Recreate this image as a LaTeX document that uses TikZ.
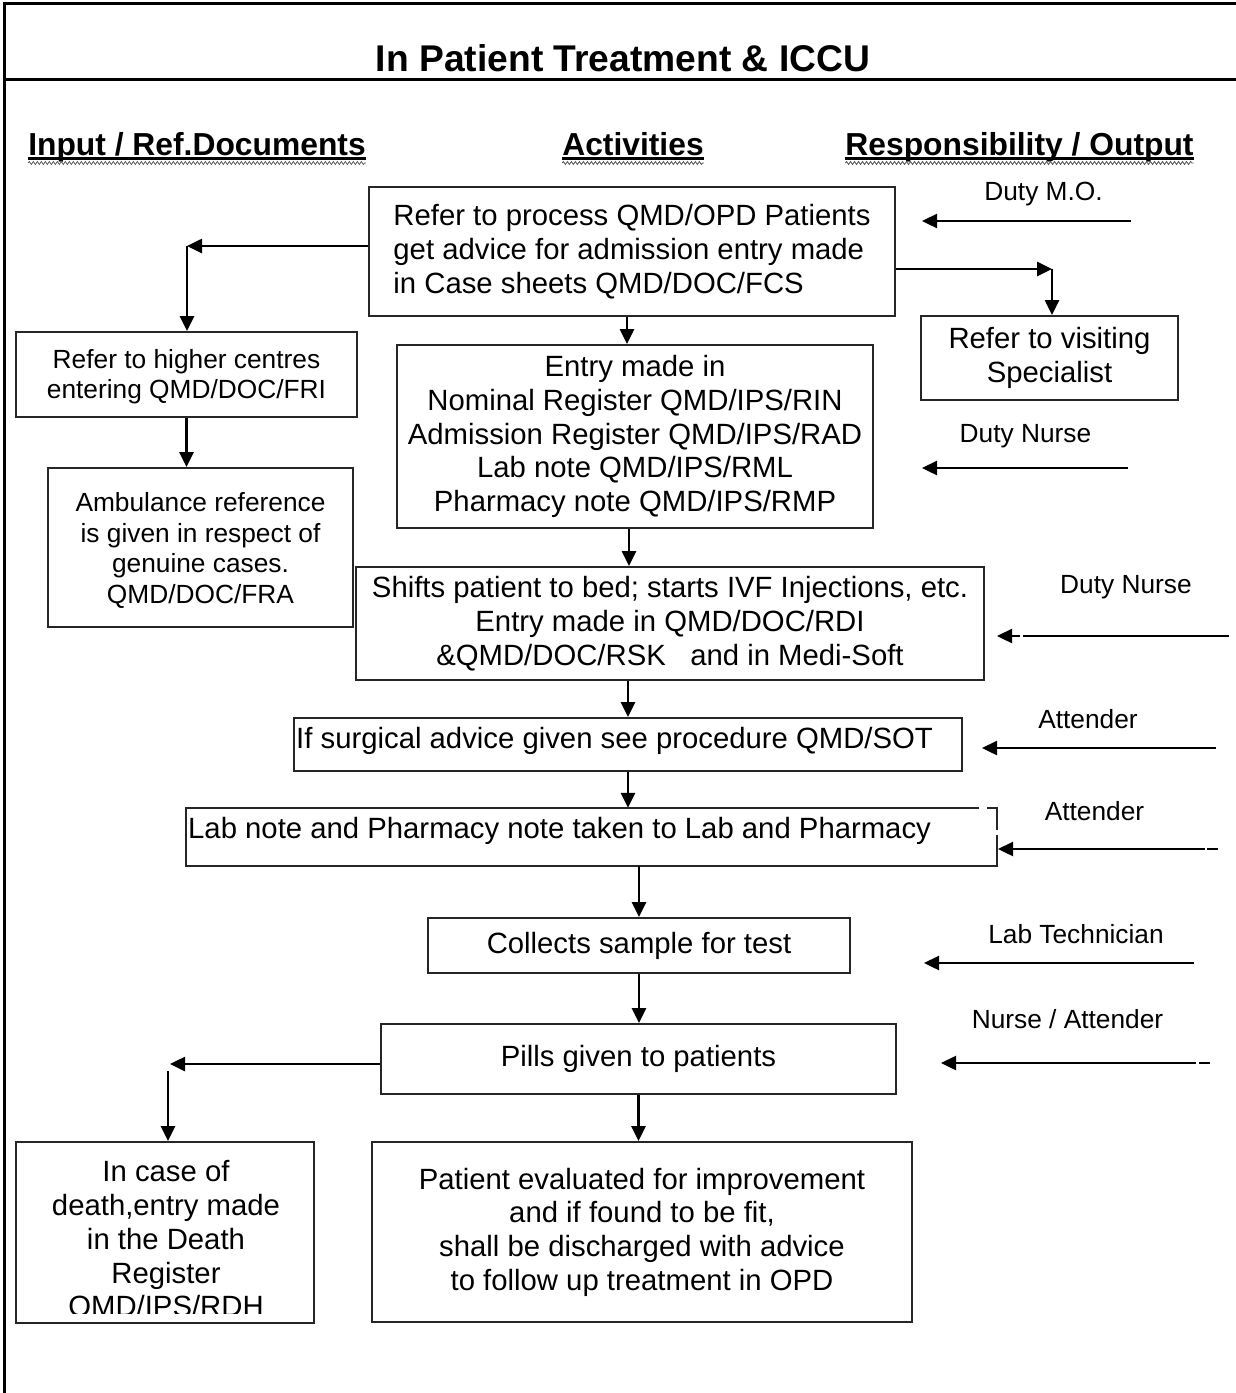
\documentclass[tikz,border=0pt]{standalone}
\usepackage{fontspec}
\setmainfont{Liberation Sans}
\usetikzlibrary{arrows.meta,decorations.pathmorphing}

% type sizes (1pt = 1 unit of the drawing grid)
\newcommand\bodyfnt{\fontsize{29.3}{33.7}\selectfont}
\newcommand\smallfnt{\fontsize{26.3}{30.5}\selectfont}
\newcommand\headfnt{\fontsize{31.8}{36}\selectfont\bfseries}
\newcommand\titlefnt{\fontsize{37.2}{42}\selectfont\bfseries}

\begin{document}
\begin{tikzpicture}[x=1pt, y=-1pt,
  frame/.style={line width=3pt, draw=black},
  boxline/.style={line width=2pt, draw=black!85},
  box/.style={boxline, draw=black!85, text=black, inner sep=0pt, align=center, font=\bodyfnt},
  sbox/.style={box, font=\smallfnt},
  txt/.style={inner sep=0pt, text=black, align=center, font=\bodyfnt},
  role/.style={inner sep=0pt, anchor=base, font=\smallfnt},
  head/.style={inner sep=0pt, anchor=base, font=\headfnt},
  uline/.style={line width=2.3pt, draw=black},
  wave/.style={line width=0.8pt, draw=black!65, decorate,
    decoration={snake, amplitude=1.5pt, segment length=4pt}},
  arr/.style={line width=2.6pt, -{Triangle[length=15pt,width=14pt]}},
  rarr/.style={line width=2.4pt, -{Triangle[length=15pt,width=14pt]}}
]
\useasboundingbox (0,0) rectangle (1236,1393);

% page frame
\draw[frame] (4.5,3) -- (1236,3);
\draw[frame] (4.5,79) -- (1236,79);
\draw[frame] (4.5,1.5) -- (4.5,1393);

% title and column headings
\node[inner sep=0pt, anchor=base, font=\titlefnt] (title) at (623,71.5) {In Patient Treatment \& ICCU};

\node[head] (h1) at (197,155.5) {Input / Ref.Documents};
\node[head] (h2) at (633,155.5) {Activities};
\node[head] (h3) at (1019.5,155.5) {Responsibility / Output};
\foreach \h in {h1,h2,h3}{
  \draw[uline] ([yshift=-3pt]\h.base west) -- ([yshift=-3pt]\h.base east);
  \draw[wave] ([yshift=-7.5pt]\h.base west) -- ([yshift=-7.5pt]\h.base east);
}

% activity boxes
\node[box, align=left, minimum width=526, minimum height=129] (A) at (632,251.5)
  {Refer to process QMD/OPD Patients\\get advice for admission entry made\\in Case sheets QMD/DOC/FCS};
\node[box, minimum width=476, minimum height=183] (B) at (635,436.5)
  {Entry made in\\Nominal Register QMD/IPS/RIN\\Admission Register QMD/IPS/RAD\\Lab note QMD/IPS/RML\\Pharmacy note QMD/IPS/RMP};
\node[sbox, minimum width=341, minimum height=85] (C) at (186.5,374.5) {};
\node[inner sep=0pt, align=center, font=\smallfnt] (Ct) at (186.5,376.5)
  {Refer to higher centres\\entering QMD/DOC/FRI};
\node[sbox, minimum width=305, minimum height=159] (D) at (200.5,547.5) {};
\node[inner sep=0pt, align=center, font=\smallfnt] (Dt) at (200.5,550.5)
  {Ambulance reference\\is given in respect of\\genuine cases.\\QMD/DOC/FRA};
\node[box, minimum width=257, minimum height=84] (E) at (1049.5,358)
  {Refer to visiting\\Specialist};
\node[box, minimum width=628, minimum height=113] (F) at (670,623.5)
  {Shifts patient to bed; starts IVF Injections, etc.\\Entry made in QMD/DOC/RDI\\\&QMD/DOC/RSK\ \ \ and in Medi-Soft};
\node[box, minimum width=668, minimum height=53] (G) at (628,744.5) {};
\node[txt, anchor=base west] (Gt) at (296,748) {If surgical advice given see procedure QMD/SOT};

\node[inner sep=0pt, minimum width=811, minimum height=58] (H) at (591.5,837) {};
\draw[boxline] ([xshift=-18pt]H.north east) -- (H.north west) -- (H.south west)
  -- (H.south east) -- ([yshift=31pt]H.south east);
\draw[boxline] ([xshift=-10pt]H.north east) -- (H.north east) -- ([yshift=-22pt]H.north east);
\node[txt, anchor=base west] (Ht) at (188,838) {Lab note and Pharmacy note taken to Lab and Pharmacy};

\node[box, minimum width=422, minimum height=55] (I) at (639,945.5) {Collects sample for test};
\node[box, minimum width=515, minimum height=70] (J) at (638.5,1059) {Pills given to patients};
\node[box, minimum width=540, minimum height=180] (K) at (642,1232)
  {Patient evaluated for improvement\\and if found to be fit,\\shall be discharged with advice\\to follow up treatment in OPD};
\node[box, minimum width=298, minimum height=181] (L) at (165,1232.5) {};
\begin{scope}
  \clip (L.north west) rectangle ([yshift=11pt]L.south east);
  \node[txt, anchor=north] (Lt) at (166,1160.5)
    {In case of\\death,entry made\\in the Death\\Register\\QMD/IPS/RDH};
\end{scope}

% flow connectors
\draw[arr] ([xshift=-5pt]A.south) -- ([xshift=-5pt]A.south |- B.north);
\draw[arr] ([xshift=-6pt]B.south) -- ([xshift=-6pt]B.south |- F.north);
\draw[arr] (C.south) -- (C.south |- D.north);
\draw[arr] (F.south -| G.north) -- (G.north);
\draw[arr] (G.south) -- (G.south |- H.north);
\draw[arr] (H.south -| I.north) -- (I.north);
\draw[arr] (I.south) -- (I.south |- J.north);
\draw[arr] (J.south) -- (J.south |- K.north);

\coordinate (ta) at (187,246);
\draw[arr] (A.west |- ta) -- (ta);
\draw[arr] (ta) -- (ta |- C.north);
\coordinate (tb) at (1052,269);
\draw[arr] (A.east |- tb) -- (tb);
\draw[arr] (tb) -- (tb |- E.north);
\coordinate (tc) at (170,1064);
\draw[arr] (J.west |- tc) -- (tc);
\coordinate (td) at (168,1071);
\draw[arr] (td) -- (td |- L.north);

% responsibilities
\node[role] (r1) at (1043.5,200) {Duty M.O.};
\node[role] (r2) at (1025.5,442) {Duty Nurse};
\node[role] (r3) at (1126,593) {Duty Nurse};
\node[role] (r4) at (1088,728) {Attender};
\node[role] (r5) at (1094.5,820) {Attender};
\node[role] (r6) at (1076,943) {Lab Technician};
\node[role] (r7) at (1067.5,1028) {Nurse / Attender};

\coordinate (s1) at (1131,221);  \coordinate (e1) at (922,221);
\coordinate (s2) at (1128,468);  \coordinate (e2) at (922,468);
\coordinate (s3) at (1229,636);  \coordinate (m3) at (1023,636); \coordinate (n3) at (1020,636); \coordinate (e3) at (997,636);
\coordinate (s4) at (1216,748);  \coordinate (e4) at (982,748);
\coordinate (s5) at (1205,849);  \coordinate (e5) at (998,849);
\coordinate (q5) at (1207,849);  \coordinate (p5) at (1218,849);
\coordinate (s6) at (1194,963);  \coordinate (e6) at (924,963);
\coordinate (s7) at (1196,1063); \coordinate (e7) at (941,1063);
\coordinate (q7) at (1199,1063); \coordinate (p7) at (1210,1063);

\draw[rarr] (s1) -- (e1);
\draw[rarr] (s2) -- (e2);
\draw[line width=2.4pt] (s3) -- (m3);
\draw[rarr] (n3) -- (e3);
\draw[rarr] (s4) -- (e4);
\draw[rarr] (s5) -- (e5);
\draw[line width=2.4pt] (q5) -- (p5);
\draw[rarr] (s6) -- (e6);
\draw[rarr] (s7) -- (e7);
\draw[line width=2.4pt] (q7) -- (p7);
\end{tikzpicture}
\end{document}
